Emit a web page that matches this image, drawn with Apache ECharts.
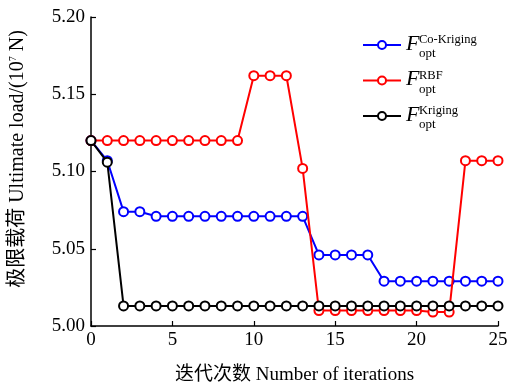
<!DOCTYPE html>
<html><head><meta charset="utf-8">
<script src="https://cdn.jsdelivr.net/npm/echarts@6/dist/echarts.min.js"></script>
<style>html,body{margin:0;padding:0;background:#fff}#c{width:507px;height:385px}</style>
</head><body><div id="c"></div>
<script>
const iterations = [0,1,2,3,4,5,6,7,8,9,10,11,12,13,14,15,16,17,18,19,20,21,22,23,24,25];
const coKriging = [5.120,5.107,5.074,5.074,5.071,5.071,5.071,5.071,5.071,5.071,5.071,5.071,5.071,5.071,5.046,5.046,5.046,5.046,5.029,5.029,5.029,5.029,5.029,5.029,5.029,5.029];
const rbf = [5.120,5.120,5.120,5.120,5.120,5.120,5.120,5.120,5.120,5.120,5.162,5.162,5.162,5.102,5.010,5.010,5.010,5.010,5.010,5.010,5.010,5.009,5.009,5.107,5.107,5.107];
const kriging = [5.120,5.106,5.013,5.013,5.013,5.013,5.013,5.013,5.013,5.013,5.013,5.013,5.013,5.013,5.013,5.013,5.013,5.013,5.013,5.013,5.013,5.013,5.013,5.013,5.013,5.013];
const seriesNames = ['Co-Kriging','RBF','Kriging'];
const seriesColors = ['#0000ff','#ff0000','#000000'];
const xTicks = {min:0, max:25, interval:5};
const yTicks = {min:5.00, max:5.20, interval:0.05};

const serif = '"Liberation Serif","Times New Roman",serif';
const mixed = '"Liberation Serif","Noto Sans CJK SC",serif';
const chart = echarts.init(document.getElementById('c'), null, {renderer:'canvas'});
const allData = [coKriging, rbf, kriging];
const series = allData.map((vals,i)=>({
  name: seriesNames[i],
  type:'line',
  data: iterations.map((x,j)=>[x, vals[j]]),
  symbol:'emptyCircle',
  symbolSize:9,
  showAllSymbol:true,
  lineStyle:{color:seriesColors[i], width:2},
  itemStyle:{color:seriesColors[i], borderColor:seriesColors[i], borderWidth:1.6},
  z: 2+i,
  animation:false
}));
chart.setOption({
  animation:false,
  grid:{left:91, right:9, top:17, bottom:59, containLabel:false, outerBoundsMode:'none'},
  legend:{
    orient:'vertical', left:357, top:28, itemGap:8,
    itemWidth:38, itemHeight:10,
    data: seriesNames,
    formatter: n => '{f|F}{sup|' + n + '}\n{pad|}{sub|opt}',
    textStyle:{
      fontFamily:serif, color:'#000',
      rich:{
        f:{fontFamily:serif, fontStyle:'italic', fontSize:22, lineHeight:10, height:10, width:13, color:'#000', verticalAlign:'bottom'},
        sup:{fontFamily:serif, fontSize:12.5, lineHeight:18, color:'#000', verticalAlign:'middle'},
        pad:{width:13, fontSize:13, lineHeight:10},
        sub:{fontFamily:serif, fontSize:13, lineHeight:10, color:'#000', verticalAlign:'middle'}
      }
    }
  },
  xAxis:{
    type:'value', min:xTicks.min, max:xTicks.max, interval:xTicks.interval,
    name:'迭代次数 Number of iterations', nameLocation:'middle', nameGap:40,
    nameTextStyle:{fontFamily:mixed, fontSize:19, color:'#000'},
    axisLine:{show:true, onZero:false, lineStyle:{color:'#000', width:1.5}},
    axisTick:{show:true, inside:true, length:5, lineStyle:{color:'#000', width:1.2}},
    axisLabel:{fontFamily:serif, fontSize:19, color:'#000', margin:5},
    splitLine:{show:false}
  },
  yAxis:{
    type:'value', min:yTicks.min, max:yTicks.max, interval:yTicks.interval,
    name:'极限载荷 Ultimate load/(10{s|7} N)', nameLocation:'middle', nameGap:63,
    nameTextStyle:{fontFamily:mixed, fontSize:20, color:'#000', padding:[0,0,0,25],
      rich:{s:{fontSize:10, verticalAlign:'top', fontFamily:serif, color:'#000'}}},
    axisLine:{show:true, lineStyle:{color:'#000', width:1.5}},
    axisTick:{show:true, inside:true, length:5, lineStyle:{color:'#000', width:1.2}},
    axisLabel:{fontFamily:serif, fontSize:19, color:'#000', margin:6, formatter:v=>v.toFixed(2)},
    splitLine:{show:false}
  },
  series: series
});
</script></body></html>
